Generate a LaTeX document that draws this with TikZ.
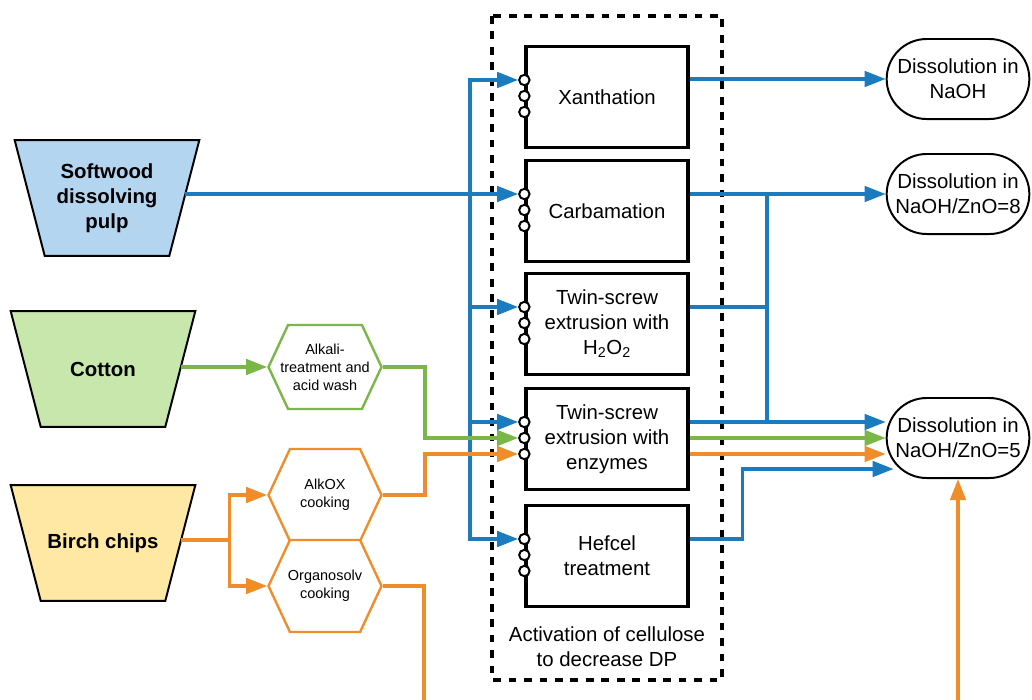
\documentclass[tikz,border=0pt]{standalone}
\usepackage{fontspec}
\setmainfont{Liberation Sans}
\usetikzlibrary{arrows.meta,calc,positioning,backgrounds,shapes.symbols,shapes.misc}

\definecolor{lineblue}{HTML}{1A7BBF}
\definecolor{linegreen}{HTML}{7AB648}
\definecolor{lineorange}{HTML}{EF8D2B}
\definecolor{pulpblue}{HTML}{B3D5F0}
\definecolor{cottongreen}{HTML}{C7E7AD}
\definecolor{birchyellow}{HTML}{FFE8A3}

\tikzset{
  feed/.style={inner sep=0pt, minimum width=4.6cm, minimum height=2.875cm,
    align=center, font=\bfseries\fontsize{14.5}{17.8}\selectfont},
  feedline/.style={draw=black, line width=1.4pt, line join=miter},
  procbox/.style={draw, line width=2.3pt, fill=white, minimum width=4.05cm,
    minimum height=2.525cm, align=center, font=\fontsize{14.5}{17.8}\selectfont},
  port/.style={circle, draw, fill=white, line width=1.4pt, inner sep=0pt,
    minimum size=0.26cm},
  hexa/.style={signal, signal to=east and west, signal pointer angle=130,
    draw, line width=1.7pt, fill=white, minimum width=2.825cm,
    minimum height=2.2cm, inner xsep=-10pt, inner ysep=1pt, align=center,
    font=\fontsize{10.3}{12.8}\selectfont},
  dissolve/.style={rounded rectangle, draw, line width=1.4pt, fill=white,
    minimum width=3.8cm, minimum height=2cm, align=center,
    font=\fontsize{14.5}{17.8}\selectfont},
  actbox/.style={line width=2.8pt, dash pattern=on 5.5pt off 5.5pt},
  link/.style={line width=2.4pt},
  flow/.style={line width=2.4pt, -{Triangle[length=15pt,width=11pt]}},
}

\begin{document}
\begin{tikzpicture}[x=0.025cm, y=-0.025cm]
			\useasboundingbox (0,0) rectangle (1032,699);
			\clip (0,0) rectangle (1032,699);

			% feedstocks
			\node[feed] (soft) at (107,198) {Softwood\\dissolving\\pulp};
			\node[feed] (cotton) at (103,369) {Cotton};
			\node[feed] (birch) at (103,543) {Birch chips};
			\begin{scope}[on background layer]
				\draw[feedline, fill=pulpblue] (soft.north west) -- (soft.north east) -- ($(soft.south east)+(-30,0)$) -- ($(soft.south west)+(30,0)$) -- cycle;
				\draw[feedline, fill=cottongreen] (cotton.north west) -- (cotton.north east) -- ($(cotton.south east)+(-30,0)$) -- ($(cotton.south west)+(30,0)$) -- cycle;
				\draw[feedline, fill=birchyellow] (birch.north west) -- (birch.north east) -- ($(birch.south east)+(-30,0)$) -- ($(birch.south west)+(30,0)$) -- cycle;
			\end{scope}
			\coordinate (softout) at ($(soft.east)+(-14,0)$);
			\coordinate (cottonout) at ($(cotton.east)+(-14,-2)$);
			\coordinate (birchout) at ($(birch.east)+(-14,-3)$);

			% pretreatments
			\node[hexa, draw=linegreen, minimum height=2.1cm] (alkali) at (325,367) {Alkali-\\treatment and\\acid wash};
			\node[hexa, draw=lineorange, minimum height=2.3cm] (alkox) at (325,495) {AlkOX\\cooking};
			\node[hexa, draw=lineorange, minimum height=2.3cm] (organo) at (325,586) {Organosolv\\cooking};

			% activation
			\draw[actbox] (492,16) rectangle (722,680);
			\node[procbox] (xan) at (607,97) {Xanthation};
			\node[procbox] (carb) at (607,211) {Carbamation};
			\node[procbox] (hyd) at (607,324) {Twin-screw\\extrusion with\\H\textsubscript{2}O\textsubscript{2}};
			\node[procbox] (enz) at (607,439) {Twin-screw\\extrusion with\\enzymes};
			\node[procbox] (hef) at (607,556) {Hefcel\\treatment};
			\node[align=center, font=\fontsize{14.5}{17.8}\selectfont] (actlabel) at (607,647) {Activation of cellulose\\to decrease DP};
			\foreach \b in {xan,carb,hyd,enz,hef} {
				\node[port] (\b1) at ($(\b.west)+(0,-17)$) {};
				\node[port] (\b2) at ($(\b.west)+(0,-1)$) {};
				\node[port] (\b3) at ($(\b.west)+(0,15)$) {};
			}

			% dissolution
			\node[dissolve] (dnaoh) at (958,79) {Dissolution in\\NaOH};
			\node[dissolve] (d8) at (958,194) {Dissolution in\\NaOH/ZnO=8};
			\node[dissolve] (d5) at (958,438) {Dissolution in\\NaOH/ZnO=5};

			\coordinate (trunk) at (470,194);
			\coordinate (merge) at (767,194);
			\coordinate (low) at (424,720);
			\coordinate (hefin) at ($(d5.west)+(8,31)$);

			% softwood route
			\draw[flow, lineblue] (softout |- carb1) -- (carb1.west);
			\draw[flow, lineblue] (trunk) |- (xan1.west);
			\draw[flow, lineblue] (trunk) |- (hyd1.west);
			\draw[flow, lineblue] (trunk) |- (enz1.west);
			\draw[flow, lineblue] (trunk) |- (hef1.west);

			% cotton route
			\draw[flow, linegreen] (cottonout) -- (alkali.west);
			\draw[flow, linegreen] (alkali.east) -- ++(42,0) |- (enz2.west);

			% birch route
			\draw[flow, lineorange] (birchout) -- ++(48,0) |- (alkox.west);
			\draw[flow, lineorange] (birchout) -- ++(48,0) |- (organo.west);
			\draw[flow, lineorange] (alkox.east) -- ++(42,0) |- (enz3.west);
			\draw[flow, lineorange] (organo.east) -| (low) -| (d5.south);

			% to dissolution
			\draw[flow, lineblue] (xan.east |- dnaoh) -- (dnaoh.west);
			\draw[flow, lineblue] (carb.east |- d8) -- (d8.west);
			\draw[link, lineblue] (hyd.east |- hyd1) -- (merge |- hyd1);
			\draw[link, lineblue] (merge) -- (merge |- enz1);
			\draw[flow, lineblue] (enz.east |- enz1) -- (enz1 -| d5.west);
			\draw[flow, linegreen] (enz.east |- enz2) -- (enz2 -| d5.west);
			\draw[flow, lineorange] (enz.east |- enz3) -- (enz3 -| d5.west);
			\draw[flow, lineblue] (hef.east |- hef1) -- ++(53,0) |- (hefin);
\end{tikzpicture}
\end{document}
